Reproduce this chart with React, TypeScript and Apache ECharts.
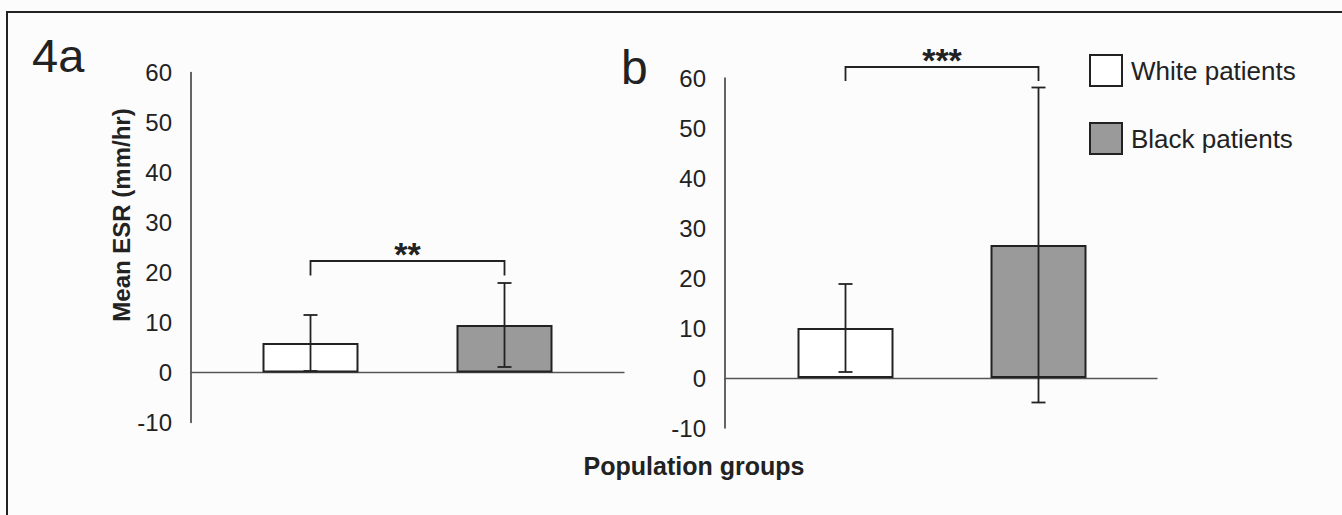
import React, { useEffect, useRef } from "react";
import * as echarts from "echarts";

// ---- data ----
const categories = ["White patients", "Black patients"];
const meanA = [5.9, 9.5];
const errA = [5.6, 8.4];
const meanB = [10.0, 26.6];
const errB = [8.8, 31.5];
const yMin = -10;
const yMax = 60;
const yStep = 10;
const bracketA = { top: 22.3, leg: 19.4, label: "**" };
const bracketB = { top: 62.2, leg: 59.4, label: "***" };
const panelLabels = ["4a", "b"];
const yTitle = "Mean ESR (mm/hr)";
const xTitle = "Population groups";

const FONT = "'Liberation Sans', Arial, Helvetica, sans-serif";
const INK = "#222";
const GREY = "#9a9a9a";

function errRender(params: any, api: any) {
  const x = api.value(0);
  const m = api.value(1);
  const e = api.value(2);
  const t = api.coord([x, m + e]);
  const b = api.coord([x, m - e]);
  const cw = 7;
  const st = { stroke: INK, lineWidth: 1.8 };
  return {
    type: "group",
    children: [
      { type: "line", shape: { x1: t[0], y1: t[1], x2: b[0], y2: b[1] }, style: st },
      { type: "line", shape: { x1: t[0] - cw, y1: t[1], x2: t[0] + cw, y2: t[1] }, style: st },
      { type: "line", shape: { x1: b[0] - cw, y1: b[1], x2: b[0] + cw, y2: b[1] }, style: st },
    ],
  };
}

function bracketRender(label: string) {
  return (params: any, api: any) => {
    const top = api.value(2);
    const leg = api.value(3);
    const l0 = api.coord([api.value(0), leg]);
    const t0 = api.coord([api.value(0), top]);
    const t1 = api.coord([api.value(1), top]);
    const l1 = api.coord([api.value(1), leg]);
    return {
      type: "group",
      children: [
        {
          type: "polyline",
          shape: { points: [l0, t0, t1, l1] },
          style: { stroke: INK, lineWidth: 1.8, fill: "none" },
        },
        {
          type: "text",
          x: (t0[0] + t1[0]) / 2,
          y: t0[1] - 7,
          style: {
            text: label,
            fontSize: 34,
            fontWeight: "bold",
            fontFamily: FONT,
            fill: INK,
            align: "center",
            verticalAlign: "middle",
          },
        },
      ],
    };
  };
}

function axesGrid(idx: number) {
  return {
    x: {
      type: "value",
      gridIndex: idx,
      min: 0,
      max: 1,
      axisLine: { show: true, onZero: true, lineStyle: { color: "#555", width: 1.3 } },
      axisTick: { show: false },
      axisLabel: { show: false },
      splitLine: { show: false },
    },
    y: {
      type: "value",
      gridIndex: idx,
      min: yMin,
      max: yMax,
      interval: yStep,
      axisLine: { show: true, lineStyle: { color: "#333", width: 1.5 } },
      axisTick: { show: false },
      splitLine: { show: false },
      axisLabel: { fontSize: 24, color: INK, fontFamily: FONT, margin: 19 },
    },
  };
}

function barsGrid(idx: number) {
  return {
    x: {
      type: "category",
      gridIndex: idx,
      data: categories,
      show: false,
    },
    y: { type: "value", gridIndex: idx, min: yMin, max: yMax, show: false },
  };
}

export default function App() {
  const ref = useRef<HTMLDivElement>(null);
  useEffect(() => {
    if (!ref.current) return;
    const chart = echarts.init(ref.current, undefined, { renderer: "svg" });
    const gA = axesGrid(0);
    const gAb = barsGrid(1);
    const gB = axesGrid(2);
    const gBb = barsGrid(3);

    const barSeries = (xi: number, means: number[]) => [
      {
        type: "bar",
        name: categories[0],
        xAxisIndex: xi,
        yAxisIndex: xi,
        data: [means[0], "-"],
        barWidth: 96,
        barGap: "-100%",
        itemStyle: { color: "#ffffff", borderColor: INK, borderWidth: 2 },
      },
      {
        type: "bar",
        name: categories[1],
        xAxisIndex: xi,
        yAxisIndex: xi,
        data: ["-", means[1]],
        barWidth: 96,
        barGap: "-100%",
        itemStyle: { color: GREY, borderColor: INK, borderWidth: 2 },
      },
    ];

    const errSeries = (xi: number, means: number[], errs: number[]) => ({
      type: "custom",
      xAxisIndex: xi,
      yAxisIndex: xi,
      renderItem: errRender,
      data: means.map((m, i) => [i, m, errs[i]]),
      z: 5,
      clip: false,
    });

    const bracketSeries = (xi: number, br: any) => ({
      type: "custom",
      xAxisIndex: xi,
      yAxisIndex: xi,
      renderItem: bracketRender(br.label),
      data: [[0, 1, br.top, br.leg]],
      z: 5,
      clip: false,
    });

    chart.setOption({
      animation: false,
      backgroundColor: "#fcfcfc",
      textStyle: { fontFamily: FONT },
      grid: [
        { left: 191, top: 72.5, width: 433, height: 350 },
        { left: 213.5, top: 72.5, width: 388, height: 350 },
        { left: 725, top: 78, width: 432, height: 350 },
        { left: 749, top: 78, width: 386, height: 350 },
      ],
      xAxis: [gA.x, gAb.x, gB.x, gBb.x],
      yAxis: [gA.y, gAb.y, gB.y, gBb.y],
      legend: {
        data: categories,
        orient: "vertical",
        left: 1084,
        top: 49,
        itemWidth: 32,
        itemHeight: 31,
        itemGap: 35,
        icon: "rect",
        itemStyle: { borderColor: INK, borderWidth: 2 },
        textStyle: { fontSize: 26, color: INK, fontFamily: FONT, padding: [0, 0, 0, 4] },
        selectedMode: false,
      },
      series: [
        ...barSeries(1, meanA),
        ...barSeries(3, meanB),
        errSeries(1, meanA, errA),
        errSeries(3, meanB, errB),
        bracketSeries(1, bracketA),
        bracketSeries(3, bracketB),
      ],
      graphic: [
        {
          type: "polyline",
          shape: { points: [[7, 515], [7, 12], [1342, 12]] },
          style: { stroke: INK, lineWidth: 2, fill: "none" },
        },
        {
          type: "text",
          x: 32,
          y: 55,
          style: {
            text: panelLabels[0],
            fontSize: 47,
            fontFamily: FONT,
            fill: INK,
            align: "left",
            verticalAlign: "middle",
          },
        },
        {
          type: "text",
          x: 621,
          y: 67,
          style: {
            text: panelLabels[1],
            fontSize: 48,
            fontFamily: FONT,
            fill: INK,
            align: "left",
            verticalAlign: "middle",
          },
        },
        {
          type: "text",
          x: 121,
          y: 215,
          rotation: Math.PI / 2,
          style: {
            text: yTitle,
            fontSize: 24,
            fontWeight: "bold",
            fontFamily: FONT,
            fill: INK,
            align: "center",
            verticalAlign: "middle",
          },
        },
        {
          type: "text",
          x: 694,
          y: 466,
          style: {
            text: xTitle,
            fontSize: 25,
            fontWeight: "bold",
            fontFamily: FONT,
            fill: INK,
            align: "center",
            verticalAlign: "middle",
          },
        },
      ],
    });
    return () => chart.dispose();
  }, []);
  return (
    <div
      ref={ref}
      style={{ position: "fixed", left: 0, top: 0, width: 1342, height: 515 }}
    />
  );
}
